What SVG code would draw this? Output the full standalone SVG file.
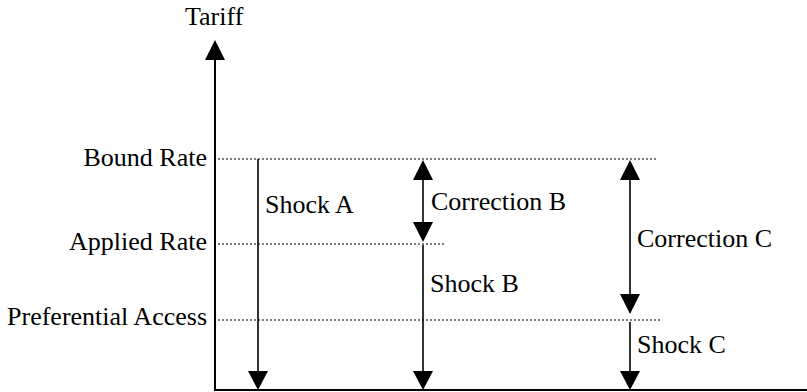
<svg xmlns="http://www.w3.org/2000/svg" width="807" height="392" viewBox="0 0 807 392">
<style>
text{font-family:"Liberation Serif","DejaVu Serif",serif;font-size:26px;fill:#000}
.axis{stroke:#000;stroke-width:2;fill:none}
.dot{stroke:#000;stroke-width:1.2;stroke-dasharray:2 2;fill:none}
.arr{stroke:#000;stroke-width:1.6;fill:none}
.head{fill:#000}
</style>
<g id="axes">
<line class="axis" x1="215" y1="58" x2="215" y2="390"/>
<line class="axis" x1="214" y1="390" x2="807" y2="390"/>
<polygon class="head" points="215,40 205,60 225,60"/>
<text x="185" y="25">Tariff</text>
</g>
<g id="levels">
<line class="dot" x1="218" y1="159" x2="656" y2="159"/>
<line class="dot" x1="218" y1="244" x2="446" y2="244"/>
<line class="dot" x1="218" y1="320" x2="660" y2="320"/>
<text x="207" y="166" text-anchor="end">Bound Rate</text>
<text x="207" y="250" text-anchor="end">Applied Rate</text>
<text x="207" y="325" text-anchor="end">Preferential Access</text>
</g>
<g id="connectors">
<g id="shockA">
<line class="arr" x1="258" y1="159" x2="258" y2="374"/>
<polygon class="head" points="258,390 248,371 268,371"/>
<text x="265" y="213">Shock A</text>
</g>
<g id="correctionB">
<line class="arr" x1="423" y1="176" x2="423" y2="226"/>
<polygon class="head" points="423,160 413,180 433,180"/>
<polygon class="head" points="423,242 413,222 433,222"/>
<text x="431" y="210">Correction B</text>
</g>
<g id="shockB">
<line class="arr" x1="423" y1="245" x2="423" y2="374"/>
<polygon class="head" points="423,390 413,371 433,371"/>
<text x="430" y="292">Shock B</text>
</g>
<g id="correctionC">
<line class="arr" x1="630" y1="176" x2="630" y2="298"/>
<polygon class="head" points="630,160 620,180 640,180"/>
<polygon class="head" points="630,314 620,294 640,294"/>
<text x="637" y="247">Correction C</text>
</g>
<g id="shockC">
<line class="arr" x1="630" y1="322" x2="630" y2="374"/>
<polygon class="head" points="630,390 620,371 640,371"/>
<text x="637" y="353">Shock C</text>
</g>
</g>
</svg>
